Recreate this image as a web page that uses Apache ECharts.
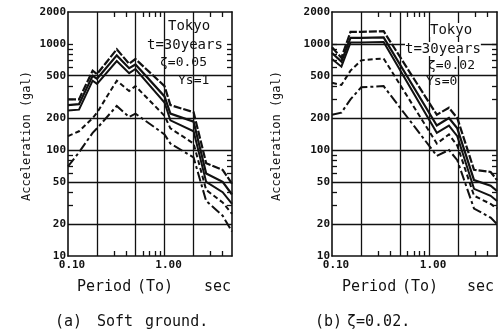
<!DOCTYPE html>
<html>
<head>
<meta charset="utf-8">
<script src="https://cdn.jsdelivr.net/npm/echarts@6/dist/echarts.min.js"></script>
<style>
  html, body { margin: 0; padding: 0; background: #fff; }
  #chart { width: 498px; height: 336px; }
</style>
</head>
<body>
<div id="chart"></div>
<script>
// (a) soft ground, zeta = 0.05 -- periods (sec) and acceleration (gal)
const periodSoft = [0.10, 0.13, 0.18, 0.20, 0.32, 0.43, 0.50, 1.00, 1.15, 2.00, 2.70, 4.00, 5.00];
const soft1 = [300, 300, 560, 520, 890, 650, 720, 400, 265, 227, 75, 65, 48];
const soft2 = [265, 270, 500, 470, 780, 590, 640, 320, 220, 185, 60, 50, 38];
const soft3 = [235, 240, 450, 420, 690, 530, 580, 280, 190, 150, 50, 40, 31];
const soft4 = [135, 150, 200, 225, 450, 360, 400, 210, 160, 115, 42, 32, 25];
const soft5 = [70, 95, 145, 160, 260, 205, 220, 140, 115, 85, 33, 24, 17];

// (b) zeta = 0.02
const periodZeta = [0.10, 0.125, 0.155, 0.20, 0.34, 1.20, 1.60, 1.95, 2.90, 4.30, 5.00];
const zeta1 = [930, 740, 1300, 1300, 1320, 215, 250, 200, 65, 62, 52];
const zeta2 = [820, 680, 1140, 1140, 1150, 170, 200, 160, 52, 46, 41];
const zeta3 = [720, 610, 1030, 1030, 1040, 145, 170, 135, 43, 37, 33];
const zeta4 = [430, 410, 560, 700, 730, 115, 140, 110, 37, 31, 28];
const zeta5 = [215, 225, 300, 390, 400, 88, 100, 80, 28, 23, 20];

// axes
const accelLabels = [10, 20, 50, 100, 200, 500, 1000, 2000];
const periodLabels = [0.1, 1.0];
const accelMinor = [30, 40, 60, 70, 80, 90, 300, 400, 600, 700, 800, 900, 1000];
const periodMinor = [0.3, 0.4, 0.6, 0.7, 0.8, 0.9, 3, 4];
const gridPeriods = [0.2, 0.5, 1.0, 2.0];
const gridAccelSoft = [20, 50, 100, 200, 500];
const gridAccelZeta = [20, 50, 100, 200, 500, 1000];

const LOG = Math.log10;
const INK = '#111';
const MONO = 'DejaVu Sans Mono';

// curve styles, top curve first
const styles = [
  { width: 2.2, type: [8, 2] },
  { width: 2.2, type: 'solid' },
  { width: 2, type: 'solid' },
  { width: 2, type: [5, 3] },
  { width: 2, type: [10, 3, 3, 3] }
];

function xAxisFor(gi, pos) {
  return {
    gridIndex: gi, type: 'value', position: pos,
    min: -1, max: LOG(5),
    axisLine: { show: true, onZero: false, lineStyle: { color: INK, width: 1.6 } },
    axisTick: { show: true, inside: true, length: 5, customValues: periodMinor.map(LOG), lineStyle: { color: INK, width: 1.3 } },
    axisLabel: {
      show: pos === 'bottom', customValues: periodLabels.map(LOG), margin: 4,
      padding: [0, 0, 0, 8],
      formatter: v => Math.pow(10, v).toFixed(2),
      fontFamily: MONO, fontWeight: 'bold', fontSize: 11, color: INK
    },
    splitLine: { show: false }
  };
}

function yAxisFor(gi, pos) {
  return {
    gridIndex: gi, type: 'value', position: pos,
    min: 1, max: LOG(2000),
    axisLine: { show: true, onZero: false, lineStyle: { color: INK, width: 1.6 } },
    axisTick: { show: true, inside: true, length: 5, customValues: accelMinor.map(LOG), lineStyle: { color: INK, width: 1.3 } },
    axisLabel: {
      show: pos === 'left', customValues: accelLabels.map(LOG), margin: 2,
      formatter: v => String(Math.round(Math.pow(10, v))),
      fontFamily: MONO, fontWeight: 'bold', fontSize: 11, color: INK
    },
    splitLine: { show: false }
  };
}

function curves(gi, periods, sets, gridAccel) {
  return sets.map((vals, k) => {
    const s = {
      type: 'line', xAxisIndex: gi * 2, yAxisIndex: gi * 2,
      data: periods.map((t, i) => [LOG(t), LOG(vals[i])]),
      showSymbol: false, symbol: 'none', silent: true,
      lineStyle: Object.assign({ color: INK, cap: 'butt', join: 'miter' }, styles[k]),
      z: 3
    };
    if (k === 0) {
      // grid lines of the log paper
      s.markLine = {
        silent: true, symbol: ['none', 'none'], label: { show: false },
        lineStyle: { color: INK, width: 1.3, type: 'solid' },
        animation: false,
        data: gridPeriods.map(t => ({ xAxis: LOG(t) }))
          .concat(gridAccel.map(a => ({ yAxis: LOG(a) })))
      };
    }
    return s;
  });
}

function txt(x, y, text, size, extra, rot) {
  return {
    type: 'text', x: x, y: y, z: 10, rotation: rot || 0,
    style: Object.assign({
      text: text, fill: INK, fontFamily: MONO, fontSize: size,
      align: 'left', verticalAlign: 'middle'
    }, extra || {})
  };
}

const chart = echarts.init(document.getElementById('chart'), null, { renderer: 'canvas' });

chart.setOption({
  animation: false,
  backgroundColor: '#fff',
  grid: [
    { left: 68, top: 12, width: 164, height: 244 },
    { left: 332, top: 12, width: 165, height: 244 }
  ],
  xAxis: [xAxisFor(0, 'bottom'), xAxisFor(0, 'top'), xAxisFor(1, 'bottom'), xAxisFor(1, 'top')],
  yAxis: [yAxisFor(0, 'left'), yAxisFor(0, 'right'), yAxisFor(1, 'left'), yAxisFor(1, 'right')],
  series: [].concat(
    curves(0, periodSoft, [soft1, soft2, soft3, soft4, soft5], gridAccelSoft),
    curves(1, periodZeta, [zeta1, zeta2, zeta3, zeta4, zeta5], gridAccelZeta)
  ),
  graphic: [
    // y titles
    txt(27, 136, 'Acceleration (gal)', 12, { align: 'center' }, Math.PI / 2),
    txt(277, 136, 'Acceleration (gal)', 12, { align: 'center' }, Math.PI / 2),
    // x titles
    txt(77, 287, 'Period', 15), txt(137, 287, '(To)', 15), txt(204, 287, 'sec', 15),
    txt(342, 287, 'Period', 15), txt(402, 287, '(To)', 15), txt(467, 287, 'sec', 15),
    // captions
    txt(55, 322, '(a)', 15), txt(97, 322, 'Soft', 15), txt(145, 322, 'ground.', 15),
    txt(315, 322, '(b)', 15), txt(347, 322, 'ζ=0.02.', 15),
    // in-plot notes
    txt(168, 26, 'Tokyo', 14),
    txt(147, 45, 't=30years', 14),
    txt(160, 63, 'ζ=0.05', 13),
    txt(178, 81, 'Ys=1', 13),
    txt(430, 30, 'Tokyo', 14, { backgroundColor: '#fff' }),
    txt(405, 49, 't=30years', 14, { backgroundColor: '#fff' }),
    txt(428, 66, 'ζ=0.02', 13),
    txt(426, 82, 'Ys=0', 13)
  ]
});
</script>
</body>
</html>
